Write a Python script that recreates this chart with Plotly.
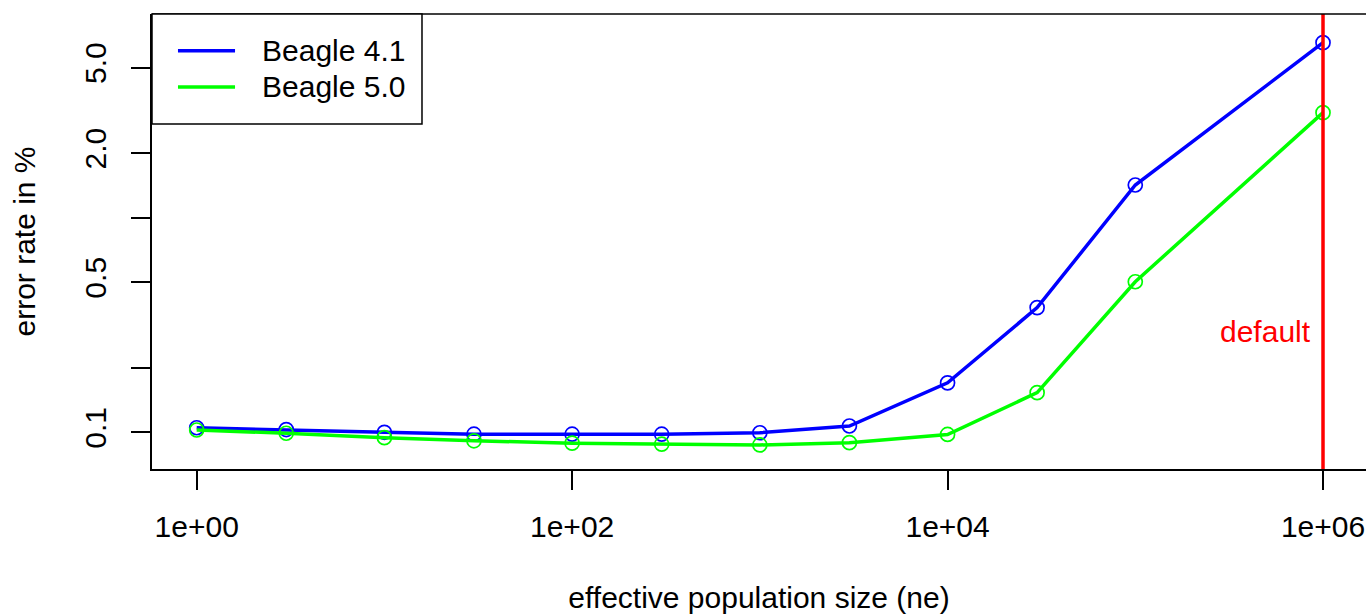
import numpy as np
import plotly.graph_objects as go

# ---------------- data ----------------
ne = [1, 3, 10, 30, 100, 300, 1000, 3000, 10000, 30000, 100000, 1000000]
beagle41 = [0.105, 0.103, 0.100, 0.098, 0.098, 0.098, 0.0995, 0.107, 0.170, 0.381, 1.42, 6.54]
beagle50 = [0.1025, 0.099, 0.0944, 0.0913, 0.089, 0.088, 0.0873, 0.0895, 0.0977, 0.153, 0.503, 3.085]

x_tick_vals = [1, 100, 10000, 1000000]
x_tick_text = ["1e+00", "1e+02", "1e+04", "1e+06"]
y_tick_vals = [0.1, 0.2, 0.5, 1, 2, 5]
y_tick_text = ["0.1", "", "0.5", "", "2.0", "5.0"]

default_ne = 1e6
default_label = "default"
default_label_y = 0.296

series_names = ["Beagle 4.1", "Beagle 5.0"]
series_colors = ["#0000FF", "#00FF00"]

FONT = "Arial, Liberation Sans, sans-serif"
FS = 30

fig = go.Figure()

for name, vals, col in zip(series_names, [beagle41, beagle50], series_colors):
    fig.add_trace(go.Scatter(
        x=ne, y=vals, mode="lines+markers", name=name, showlegend=False,
        line=dict(color=col, width=3.5),
        marker=dict(symbol="circle-open", size=14, color=col, line=dict(width=1.7, color=col)),
    ))

# vertical "default" line (clipped to the plot area)
fig.add_trace(go.Scatter(
    x=[default_ne, default_ne], y=[1e-3, 1e3], mode="lines", showlegend=False,
    line=dict(color="#FF0000", width=3.5), hoverinfo="skip",
))

fig.add_annotation(
    x=np.log10(default_ne), y=np.log10(default_label_y), xref="x", yref="y",
    text=default_label, showarrow=False, xanchor="right", yanchor="middle",
    xshift=-10, font=dict(family=FONT, size=FS, color="#FF0000"),
)

# top border of the box
fig.add_shape(type="line", xref="paper", yref="paper", x0=0, x1=1, y0=1, y1=1,
              line=dict(color="black", width=1.5))

# legend box (R style) in paper coordinates
fig.add_shape(type="rect", xref="paper", yref="paper", x0=0, x1=0.2224, y0=0.7582, y1=1,
              line=dict(color="black", width=1.5), fillcolor="white", layer="above")
legend_rows_y = [0.9193, 0.8396]
for name, col, yy in zip(series_names, series_colors, legend_rows_y):
    fig.add_shape(type="line", xref="paper", yref="paper", x0=0.0214, x1=0.0684, y0=yy, y1=yy,
                  line=dict(color=col, width=3.5), layer="above")
    fig.add_annotation(x=0.0889, y=yy, xref="paper", yref="paper", text=name,
                       showarrow=False, xanchor="left", yanchor="middle",
                       font=dict(family=FONT, size=FS, color="black"))

fig.update_layout(
    width=1366, height=614,
    margin=dict(l=152, r=0, t=14, b=145, pad=0),
    paper_bgcolor="white", plot_bgcolor="white",
    font=dict(family=FONT, size=FS, color="black"),
    showlegend=False,
    xaxis=dict(
        type="log", range=[-0.238, 6.229],
        tickvals=x_tick_vals, ticktext=x_tick_text,
        ticks="outside", ticklen=19, tickwidth=1.5, tickcolor="black",
        ticklabelstandoff=11,
        showline=True, linecolor="black", linewidth=1.5, mirror=False,
        showgrid=False, zeroline=False,
        tickfont=dict(family=FONT, size=FS, color="black"),
        title=dict(text="effective population size (ne)", standoff=45,
                   font=dict(family=FONT, size=FS, color="black")),
    ),
    yaxis=dict(
        type="log", range=[-1.171, 0.949],
        tickvals=y_tick_vals, ticktext=y_tick_text, tickangle=-90,
        ticks="outside", ticklen=19, tickwidth=1.5, tickcolor="black",
        ticklabelstandoff=13,
        showline=True, linecolor="black", linewidth=1.5, mirror=False,
        showgrid=False, zeroline=False,
        tickfont=dict(family=FONT, size=FS, color="black"),
        title=dict(text="error rate in %", standoff=35,
                   font=dict(family=FONT, size=FS, color="black")),
    ),
)

fig.write_html("out.html", config={"displayModeBar": False},
               post_script="document.body.style.margin='0';document.body.style.padding='0';")
